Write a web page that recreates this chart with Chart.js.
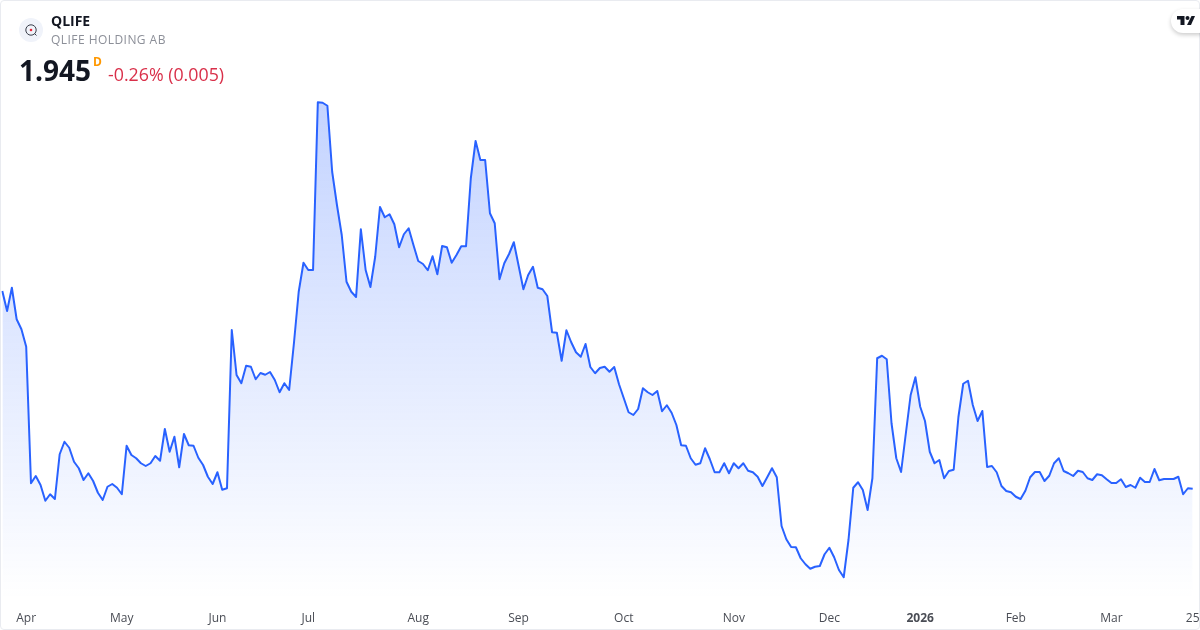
<!DOCTYPE html>
<html>
<head>
<meta charset="utf-8">
<title>QLIFE</title>
<script src="https://cdn.jsdelivr.net/npm/chart.js@4"></script>
<style>
    html, body { margin: 0; padding: 0; background: #fff; }
    #frame { position: relative; width: 1200px; height: 630px; overflow: hidden; font-family: "Open Sans", sans-serif; }
    #border { position: absolute; left: 0; top: 0; width: 1198px; height: 628px; border: 1px solid #e9ebf0; border-radius: 4px; pointer-events: none; }
    canvas { position: absolute; left: 0; top: 0; }
    .txt { position: absolute; white-space: nowrap; line-height: 1; }
    #logo { position: absolute; left: 19px; top: 18px; width: 24px; height: 24px; }
    #tv { position: absolute; left: 1171px; top: 9px; width: 40px; height: 24px; background: #fff; border-radius: 12px; box-shadow: 0 2px 4px rgba(0,0,0,0.2); }
    #tv svg { position: absolute; left: 6px; top: 6px; }
</style>
</head>
<body>
<div id="frame">
    <canvas id="chart" width="1200" height="630"></canvas>
    <div id="border"></div>

    <svg id="logo" viewBox="0 0 24 24">
        <circle cx="12" cy="12" r="12" fill="#f0f3fa"/>
        <circle cx="12" cy="12" r="5.2" fill="none" stroke="#3a3f4b" stroke-width="1"/>
        <line x1="15.5" y1="15.5" x2="17.5" y2="17.5" stroke="#3a3f4b" stroke-width="1"/>
        <circle cx="12" cy="12" r="1.3" fill="#e8283c"/>
    </svg>
    <div class="txt" style="left:51px;top:14px;font-size:14px;font-weight:700;color:#131722;">QLIFE</div>
    <div class="txt" style="left:51px;top:34px;font-size:12px;color:#8c8f98;letter-spacing:0.45px;">QLIFE HOLDING AB</div>
    <div class="txt" style="left:19px;top:56px;font-size:28px;font-weight:700;color:#131722;">1.945</div>
    <div class="txt" style="left:93px;top:56px;font-size:12px;font-weight:700;color:#ff9800;">D</div>
    <div class="txt" style="left:108px;top:66px;font-size:17.8px;color:#d9304a;">-0.26% (0.005)</div>

    <div id="tv">
        <svg width="18" height="11" viewBox="0 0 36 22">
            <path d="M15 2H0v7h7v11h8V2Z" fill="#131722"/>
            <circle cx="21" cy="6" r="4" fill="#131722"/>
            <path d="M29 2h7l-8 18h-8L29 2Z" fill="#131722"/>
        </svg>
    </div>
</div>

<script>
// daily closes, one per trading day
const prices = [
    2.736, 2.656, 2.749, 2.623, 2.583, 2.513, 1.967, 1.996, 1.960, 1.897,
    1.923, 1.904, 2.083, 2.133, 2.109, 2.053, 2.027, 1.980, 2.007, 1.976,
    1.929, 1.900, 1.953, 1.964, 1.949, 1.923, 2.117, 2.080, 2.067, 2.047,
    2.036, 2.047, 2.076, 2.057, 2.184, 2.093, 2.153, 2.031, 2.164, 2.119,
    2.117, 2.069, 2.040, 1.993, 1.964, 2.011, 1.941, 1.947, 2.580, 2.400,
    2.367, 2.437, 2.433, 2.383, 2.408, 2.401, 2.412, 2.380, 2.331, 2.367,
    2.340, 2.527, 2.733, 2.849, 2.820, 2.820, 3.491, 3.489, 3.477, 3.213,
    3.080, 2.960, 2.773, 2.733, 2.712, 2.983, 2.820, 2.752, 2.873, 3.072,
    3.031, 3.043, 3.003, 2.911, 2.963, 2.987, 2.920, 2.856, 2.844, 2.819,
    2.875, 2.803, 2.916, 2.911, 2.849, 2.880, 2.915, 2.915, 3.187, 3.336,
    3.260, 3.260, 3.047, 3.007, 2.783, 2.847, 2.884, 2.931, 2.837, 2.743,
    2.800, 2.833, 2.749, 2.743, 2.716, 2.571, 2.569, 2.457, 2.579, 2.531,
    2.491, 2.473, 2.524, 2.432, 2.407, 2.428, 2.433, 2.413, 2.432, 2.363,
    2.307, 2.251, 2.240, 2.264, 2.347, 2.331, 2.320, 2.336, 2.255, 2.279,
    2.249, 2.200, 2.119, 2.117, 2.067, 2.041, 2.047, 2.107, 2.063, 2.011,
    2.011, 2.047, 2.007, 2.047, 2.027, 2.047, 2.017, 2.011, 1.993, 1.956,
    1.991, 2.027, 1.991, 1.796, 1.743, 1.712, 1.711, 1.667, 1.643, 1.625,
    1.633, 1.636, 1.683, 1.709, 1.671, 1.620, 1.591, 1.740, 1.949, 1.971,
    1.940, 1.860, 1.987, 2.467, 2.477, 2.463, 2.207, 2.067, 2.012, 2.167,
    2.320, 2.391, 2.273, 2.216, 2.093, 2.047, 2.060, 1.987, 2.016, 2.021,
    2.233, 2.365, 2.377, 2.280, 2.216, 2.256, 2.032, 2.036, 2.011, 1.956,
    1.936, 1.931, 1.913, 1.904, 1.937, 1.991, 2.012, 2.012, 1.976, 1.997,
    2.047, 2.067, 2.016, 2.007, 1.996, 2.017, 2.012, 1.987, 1.980, 2.003,
    1.999, 1.983, 1.968, 1.968, 1.983, 1.952, 1.960, 1.949, 1.989, 1.972,
    1.972, 2.024, 1.979, 1.984, 1.984, 1.984, 1.993, 1.923, 1.947, 1.945
];

// axis labels and the trading day each one sits on
const tickLabels = ["Apr", "May", "Jun", "Jul", "Aug", "Sep", "Oct", "Nov", "Dec", "2026", "Feb", "Mar", "25"];
const tickDays = [5, 25, 45, 64, 87, 108, 130, 153, 173, 192, 212, 232, 249];

const lineColor = "#2962ff";

// one x label per price, empty except on the tick days
const xLabels = prices.map((p, i) => {
    const t = tickDays.indexOf(i);
    return t >= 0 ? tickLabels[t] : "";
});

// area fade, needs the chart area so it is built when the dataset is drawn
function areaFill(ctx) {
    const area = ctx.chart.chartArea;
    if (!area) {
        return "rgba(41, 98, 255, 0.2)";
    }
    const g = ctx.chart.ctx.createLinearGradient(0, 100, 0, area.bottom);
    g.addColorStop(0, "rgba(41, 98, 255, 0.28)");
    g.addColorStop(1, "rgba(41, 98, 255, 0)");
    return g;
}

new Chart(document.getElementById("chart"), {
    type: "line",
    data: {
        labels: xLabels,
        datasets: [{
            data: prices,
            borderColor: lineColor,
            borderWidth: 2,
            backgroundColor: areaFill,
            fill: "start",
            tension: 0,
            pointRadius: 0,
            borderJoinStyle: "round"
        }]
    },
    options: {
        responsive: false,
        animation: false,
        layout: { padding: { left: 2.3, right: 7.3, top: 0, bottom: 0 } },
        plugins: { legend: { display: false }, tooltip: { enabled: false } },
        scales: {
            x: {
                offset: false,
                grid: { display: false, drawTicks: false },
                border: { display: false },
                // labels may hang over the plot edges, no extra inset for them
                afterFit: (scale) => {
                    scale.height = 30;
                    scale.paddingLeft = 0;
                    scale.paddingRight = 0;
                },
                ticks: {
                    autoSkip: false,
                    maxRotation: 0,
                    minRotation: 0,
                    padding: 11,
                    color: "#4a4d55",
                    font: (ctx) => ({
                        family: "'Open Sans'",
                        size: 12,
                        weight: ctx.tick && ctx.tick.label === "2026" ? "700" : "400"
                    })
                }
            },
            y: {
                display: false,
                min: 1.5,
                max: 3.9
            }
        }
    }
});
</script>
</body>
</html>
